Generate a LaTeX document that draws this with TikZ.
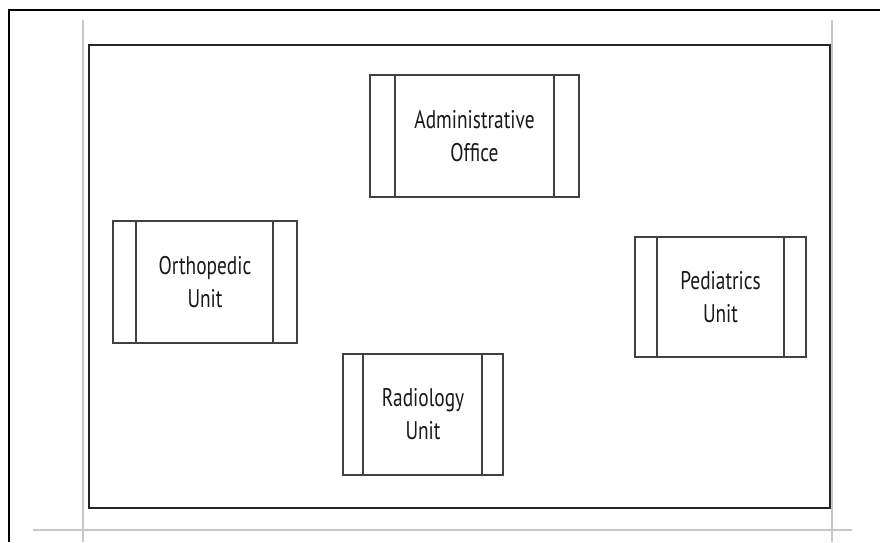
\documentclass[tikz,border=0pt]{standalone}
\usepackage{fontspec}
\setmainfont{PT Sans}[FakeStretch=0.76]
\begin{document}
\begin{tikzpicture}[x=1pt,y=-1pt,
  unitbox/.style={draw=black!75,line width=1.3pt,fill=white},
  sideline/.style={draw=black!75,line width=1.3pt},
  guide/.style={draw=black!22,line width=1.5pt},
  lbl/.style={font=\fontsize{25.5}{33}\selectfont,align=center,text=black!90}]
\useasboundingbox (0,0) rectangle (880,542);
\fill[white] (0,0) rectangle (880,542);
% screenshot frame
\draw[black,line width=1.6pt] (9,542) -- (9,10) -- (880,10);
% guide lines
\draw[guide] (83,20) -- (83,542);
\draw[guide] (832,20) -- (832,542);
\draw[guide] (33,530) -- (852,530);
% outer boundary
\draw[black!85,line width=2.8pt] (89,45) rectangle (830,508);
% boxes
\node[unitbox,minimum width=209pt,minimum height=122pt,inner sep=0pt] (adm) at (474.5,136) {};
\draw[sideline] (395,75) -- (395,197);
\draw[sideline] (554,75) -- (554,197);
\node[lbl] at (adm) {Administrative\\Office};

\node[unitbox,minimum width=184pt,minimum height=122pt,inner sep=0pt] (ort) at (205,282) {};
\draw[sideline] (136,221) -- (136,343);
\draw[sideline] (273,221) -- (273,343);
\node[lbl] at (ort) {Orthopedic\\Unit};

\node[unitbox,minimum width=171pt,minimum height=120pt,inner sep=0pt] (ped) at (720.5,297) {};
\draw[sideline] (657,237) -- (657,357);
\draw[sideline] (784,237) -- (784,357);
\node[lbl] at (ped) {Pediatrics\\Unit};

\node[unitbox,minimum width=160pt,minimum height=121pt,inner sep=0pt] (rad) at (423,414.5) {};
\draw[sideline] (363,354) -- (363,475);
\draw[sideline] (482,354) -- (482,475);
\node[lbl] at (rad) {Radiology\\Unit};
\end{tikzpicture}
\end{document}
